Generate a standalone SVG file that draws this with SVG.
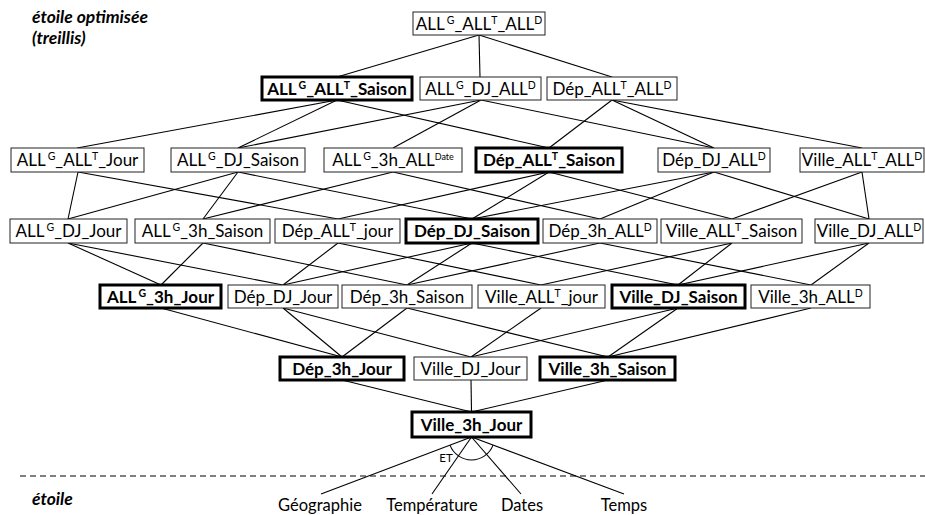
<svg xmlns="http://www.w3.org/2000/svg" width="925" height="515" viewBox="0 0 925 515">
  <style>
    .box { fill: #fff; stroke: #222; stroke-width: 1; }
    .key { fill: #fff; stroke: #000; stroke-width: 3; }
    .lbl { font-family: Lato, "Liberation Sans", sans-serif; font-size: 17px; text-anchor: middle; fill: #000; }
    .b { font-weight: bold; }
    .sup { font-size: 10.5px; }
    .sm { font-size: 9px; }
    .edge { stroke: #000; stroke-width: 1.1; fill: none; }
    .title { font-family: Lato, "Liberation Sans", sans-serif; font-size: 17.5px; font-weight: bold; font-style: italic; fill: #000; }
    .dim { font-family: Lato, "Liberation Sans", sans-serif; font-size: 16.5px; text-anchor: middle; fill: #000; }
  </style>

  <rect width="925" height="515" fill="#fff"/>

  <text class="title" x="32" y="23">étoile optimisée</text>
  <text class="title" x="32" y="44">(treillis)</text>
  <text class="title" x="32" y="505">étoile</text>

  <!-- lattice links, parent bottom centre to child top centre -->
  <g id="connectors" class="edge">
    <!-- level 0 -> 1 -->
    <line x1="479" y1="35" x2="337" y2="77"/>
    <line x1="479" y1="35" x2="480" y2="77"/>
    <line x1="479" y1="35" x2="612" y2="77"/>
    <!-- level 1 -> 2 -->
    <line x1="337" y1="100" x2="77" y2="148"/>
    <line x1="337" y1="100" x2="238" y2="148"/>
    <line x1="337" y1="100" x2="549" y2="148"/>
    <line x1="481" y1="100" x2="238" y2="148"/>
    <line x1="481" y1="100" x2="393" y2="148"/>
    <line x1="481" y1="100" x2="714" y2="148"/>
    <line x1="612" y1="100" x2="549" y2="148"/>
    <line x1="612" y1="100" x2="714" y2="148"/>
    <line x1="612" y1="100" x2="862" y2="148"/>
    <!-- level 2 -> 3 -->
    <line x1="78" y1="172" x2="68" y2="219"/>
    <line x1="78" y1="172" x2="338" y2="219"/>
    <line x1="238" y1="172" x2="68" y2="219"/>
    <line x1="238" y1="172" x2="203" y2="219"/>
    <line x1="238" y1="172" x2="472" y2="219"/>
    <line x1="393" y1="172" x2="203" y2="219"/>
    <line x1="393" y1="172" x2="600" y2="219"/>
    <line x1="549" y1="172" x2="338" y2="219"/>
    <line x1="549" y1="172" x2="472" y2="219"/>
    <line x1="549" y1="172" x2="732" y2="219"/>
    <line x1="714" y1="172" x2="472" y2="219"/>
    <line x1="714" y1="172" x2="600" y2="219"/>
    <line x1="714" y1="172" x2="869" y2="219"/>
    <line x1="862" y1="172" x2="732" y2="219"/>
    <line x1="862" y1="172" x2="869" y2="219"/>
    <!-- level 3 -> 4 -->
    <line x1="68" y1="243" x2="161" y2="285"/>
    <line x1="68" y1="243" x2="283" y2="285"/>
    <line x1="203" y1="243" x2="161" y2="285"/>
    <line x1="203" y1="243" x2="407" y2="285"/>
    <line x1="338" y1="243" x2="283" y2="285"/>
    <line x1="338" y1="243" x2="541" y2="285"/>
    <line x1="472" y1="243" x2="283" y2="285"/>
    <line x1="472" y1="243" x2="407" y2="285"/>
    <line x1="472" y1="243" x2="678" y2="285"/>
    <line x1="600" y1="243" x2="407" y2="285"/>
    <line x1="600" y1="243" x2="811" y2="285"/>
    <line x1="732" y1="243" x2="541" y2="285"/>
    <line x1="732" y1="243" x2="678" y2="285"/>
    <line x1="869" y1="243" x2="678" y2="285"/>
    <line x1="869" y1="243" x2="811" y2="285"/>
    <!-- level 4 -> 5 -->
    <line x1="161" y1="308" x2="342" y2="357"/>
    <line x1="283" y1="308" x2="342" y2="357"/>
    <line x1="283" y1="308" x2="471" y2="357"/>
    <line x1="407" y1="308" x2="342" y2="357"/>
    <line x1="407" y1="308" x2="608" y2="357"/>
    <line x1="541" y1="308" x2="471" y2="357"/>
    <line x1="678" y1="308" x2="471" y2="357"/>
    <line x1="678" y1="308" x2="608" y2="357"/>
    <line x1="811" y1="308" x2="608" y2="357"/>
    <!-- level 5 -> 6 -->
    <line x1="342" y1="380" x2="471.5" y2="412"/>
    <line x1="471" y1="380" x2="471.5" y2="412"/>
    <line x1="608" y1="380" x2="471.5" y2="412"/>
    <!-- base fact to star dimensions -->
    <line x1="471.5" y1="437" x2="321" y2="494"/>
    <line x1="471.5" y1="437" x2="432" y2="494"/>
    <line x1="471.5" y1="437" x2="521" y2="494"/>
    <line x1="471.5" y1="437" x2="624" y2="494"/>
    <path d="M450,445.1 A23,23 0 0 0 493,445.1"/>
  </g>

  <line x1="20" y1="476" x2="925" y2="476" stroke="#000" stroke-width="1" stroke-dasharray="6,4"/>

  <text class="dim" x="446" y="462" style="font-size:11.5px">ET</text>

  <!-- level 0 -->
  <g id="n-all-all-all">
    <rect class="box" x="413" y="12" width="132" height="23"/>
    <text class="lbl" x="479" y="29.5">ALL<tspan class="sup" dx="2" dy="-6">G</tspan><tspan dy="6">_ALL</tspan><tspan class="sup" dy="-6">T</tspan><tspan dy="6">_ALL</tspan><tspan class="sup" dy="-6">D</tspan></text>
  </g>

  <!-- level 1 -->
  <g id="n-all-all-saison">
    <rect class="key" x="262" y="77" width="150" height="23"/>
    <text class="lbl b" x="337" y="94.5">ALL<tspan class="sup" dx="2" dy="-6">G</tspan><tspan dy="6">_ALL</tspan><tspan class="sup" dy="-6">T</tspan><tspan dy="6">_Saison</tspan></text>
  </g>
  <g id="n-all-dj-all">
    <rect class="box" x="420" y="77" width="121" height="23"/>
    <text class="lbl" x="480.5" y="94.5">ALL<tspan class="sup" dx="2" dy="-6">G</tspan><tspan dy="6">_DJ_ALL</tspan><tspan class="sup" dy="-6">D</tspan></text>
  </g>
  <g id="n-dep-all-all">
    <rect class="box" x="547" y="77" width="130" height="23"/>
    <text class="lbl" x="612" y="94.5">Dép_ALL<tspan class="sup" dy="-6">T</tspan><tspan dy="6">_ALL</tspan><tspan class="sup" dy="-6">D</tspan></text>
  </g>

  <!-- level 2 -->
  <g id="n-all-all-jour">
    <rect class="box" x="11" y="148" width="133" height="24"/>
    <text class="lbl" x="77.5" y="166">ALL<tspan class="sup" dx="2" dy="-6">G</tspan><tspan dy="6">_ALL</tspan><tspan class="sup" dy="-6">T</tspan><tspan dy="6">_Jour</tspan></text>
  </g>
  <g id="n-all-dj-saison">
    <rect class="box" x="171" y="148" width="134" height="24"/>
    <text class="lbl" x="238" y="166">ALL<tspan class="sup" dx="2" dy="-6">G</tspan><tspan dy="6">_DJ_Saison</tspan></text>
  </g>
  <g id="n-all-3h-all">
    <rect class="box" x="324" y="148" width="138" height="24"/>
    <text class="lbl" x="393" y="166">ALL<tspan class="sup" dx="2" dy="-6">G</tspan><tspan dy="6">_3h_ALL</tspan><tspan class="sm" dy="-6">Date</tspan></text>
  </g>
  <g id="n-dep-all-saison">
    <rect class="key" x="476" y="148" width="146" height="24"/>
    <text class="lbl b" x="549" y="166">Dép_ALL<tspan class="sup" dy="-6">T</tspan><tspan dy="6">_Saison</tspan></text>
  </g>
  <g id="n-dep-dj-all">
    <rect class="box" x="658" y="148" width="112" height="24"/>
    <text class="lbl" x="714" y="166">Dép_DJ_ALL<tspan class="sup" dy="-6">D</tspan></text>
  </g>
  <g id="n-ville-all-all">
    <rect class="box" x="800" y="148" width="124" height="24"/>
    <text class="lbl" x="862" y="166">Ville_ALL<tspan class="sup" dy="-6">T</tspan><tspan dy="6">_ALL</tspan><tspan class="sup" dy="-6">D</tspan></text>
  </g>

  <!-- level 3 -->
  <g id="n-all-dj-jour">
    <rect class="box" x="10" y="219" width="117" height="24"/>
    <text class="lbl" x="68.5" y="237">ALL<tspan class="sup" dx="2" dy="-6">G</tspan><tspan dy="6">_DJ_Jour</tspan></text>
  </g>
  <g id="n-all-3h-saison">
    <rect class="box" x="135" y="219" width="135" height="24"/>
    <text class="lbl" x="202.5" y="237">ALL<tspan class="sup" dx="2" dy="-6">G</tspan><tspan dy="6">_3h_Saison</tspan></text>
  </g>
  <g id="n-dep-all-jour">
    <rect class="box" x="275" y="219" width="125" height="24"/>
    <text class="lbl" x="337.5" y="237">Dép_ALL<tspan class="sup" dy="-6">T</tspan><tspan dy="6">_jour</tspan></text>
  </g>
  <g id="n-dep-dj-saison">
    <rect class="key" x="406" y="219" width="132" height="24"/>
    <text class="lbl b" x="472" y="237">Dép_DJ_Saison</text>
  </g>
  <g id="n-dep-3h-all">
    <rect class="box" x="543" y="219" width="114" height="24"/>
    <text class="lbl" x="600" y="237">Dép_3h_ALL<tspan class="sup" dy="-6">D</tspan></text>
  </g>
  <g id="n-ville-all-saison">
    <rect class="box" x="661" y="219" width="141" height="24"/>
    <text class="lbl" x="731.5" y="237">Ville_ALL<tspan class="sup" dy="-6">T</tspan><tspan dy="6">_Saison</tspan></text>
  </g>
  <g id="n-ville-dj-all">
    <rect class="box" x="815" y="219" width="108" height="24"/>
    <text class="lbl" x="869" y="237">Ville_DJ_ALL<tspan class="sup" dy="-6">D</tspan></text>
  </g>

  <!-- level 4 -->
  <g id="n-all-3h-jour">
    <rect class="key" x="100" y="285" width="121" height="23"/>
    <text class="lbl b" x="160.5" y="302.5">ALL<tspan class="sup" dx="2" dy="-6">G</tspan><tspan dy="6">_3h_Jour</tspan></text>
  </g>
  <g id="n-dep-dj-jour">
    <rect class="box" x="228" y="285" width="110" height="23"/>
    <text class="lbl" x="283" y="302.5">Dép_DJ_Jour</text>
  </g>
  <g id="n-dep-3h-saison">
    <rect class="box" x="342" y="285" width="130" height="23"/>
    <text class="lbl" x="407" y="302.5">Dép_3h_Saison</text>
  </g>
  <g id="n-ville-all-jour">
    <rect class="box" x="478" y="285" width="127" height="23"/>
    <text class="lbl" x="541.5" y="302.5">Ville_ALL<tspan class="sup" dy="-6">T</tspan><tspan dy="6">_jour</tspan></text>
  </g>
  <g id="n-ville-dj-saison">
    <rect class="key" x="612" y="285" width="133" height="23"/>
    <text class="lbl b" x="678.5" y="302.5">Ville_DJ_Saison</text>
  </g>
  <g id="n-ville-3h-all">
    <rect class="box" x="751" y="285" width="119" height="23"/>
    <text class="lbl" x="810.5" y="302.5">Ville_3h_ALL<tspan class="sup" dy="-6">D</tspan></text>
  </g>

  <!-- level 5 -->
  <g id="n-dep-3h-jour">
    <rect class="key" x="280" y="357" width="124" height="23"/>
    <text class="lbl b" x="342" y="374.5">Dép_3h_Jour</text>
  </g>
  <g id="n-ville-dj-jour">
    <rect class="box" x="414" y="357" width="113" height="23"/>
    <text class="lbl" x="470.5" y="374.5">Ville_DJ_Jour</text>
  </g>
  <g id="n-ville-3h-saison">
    <rect class="key" x="540" y="357" width="135" height="23"/>
    <text class="lbl b" x="607.5" y="374.5">Ville_3h_Saison</text>
  </g>

  <!-- level 6: base cuboid -->
  <g id="n-ville-3h-jour">
    <rect class="key" x="412" y="412" width="119" height="25"/>
    <text class="lbl b" x="471.5" y="430.5">Ville_3h_Jour</text>
  </g>

  <!-- star schema dimensions -->
  <g id="dimensions">
    <text class="dim" x="320" y="511">Géographie</text>
    <text class="dim" x="432" y="511">Température</text>
    <text class="dim" x="522" y="511">Dates</text>
    <text class="dim" x="624" y="511">Temps</text>
  </g>
</svg>
